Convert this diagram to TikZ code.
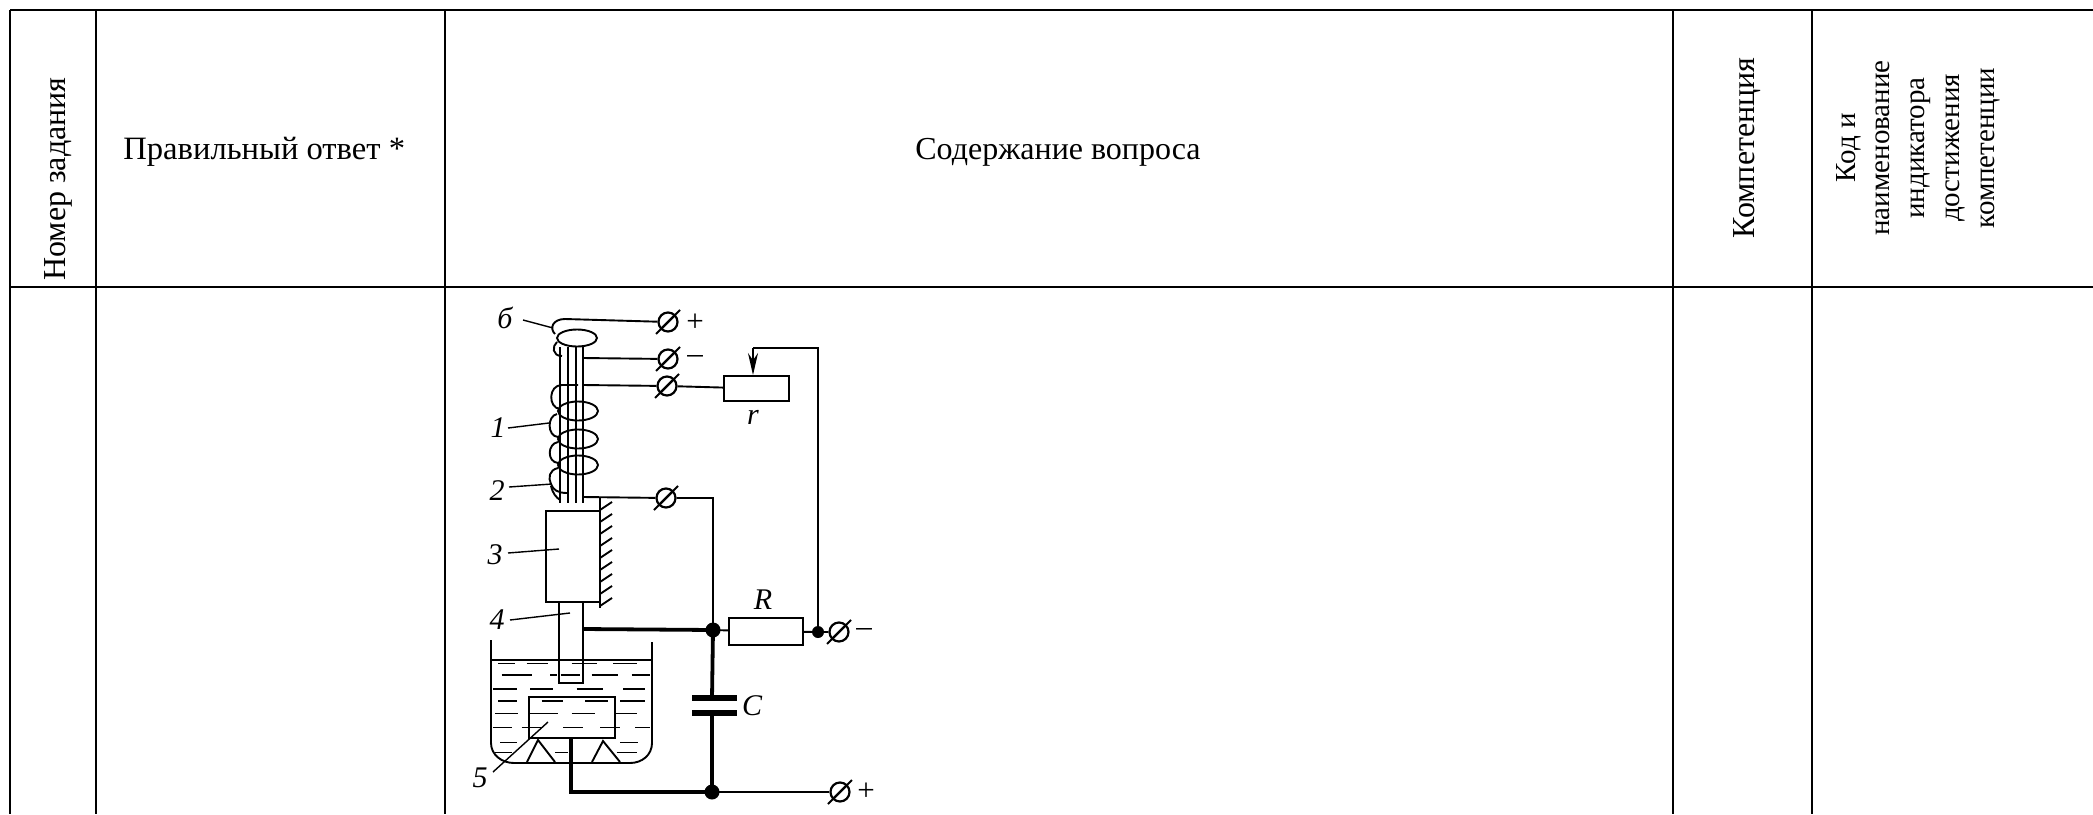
\documentclass[tikz,border=0pt]{standalone}
\usepackage{fontspec}
\setmainfont{Liberation Serif}
\usetikzlibrary{shapes.symbols,arrows.meta}
\tikzset{
	gridline/.style={line width=1.3pt},
	wire/.style={line width=0.95pt},
	heavy/.style={line width=1.9pt},
	fine/.style={line width=0.7pt},
	clamp/.style={forbidden sign,draw,line width=1.1pt,inner sep=0pt,minimum size=9.5pt},
	numlabel/.style={font=\itshape\fontsize{15}{15}\selectfont,inner sep=0pt},
	signlabel/.style={font=\fontsize{15.5}{15.5}\selectfont,inner sep=0pt},
	headtext/.style={font=\fontsize{16}{16}\selectfont,inner sep=0pt}
}
\begin{document}
\begin{tikzpicture}[x=0.5pt,y=-0.5pt]
	\useasboundingbox (0,0) rectangle (2093,814);

	\draw[gridline] (10,10) -- (2093,10);
	\draw[gridline] (10,287) -- (2093,287);
	\foreach \a in {10,96,445,1673,1812}{
		\draw[gridline] (\a,10) -- (\a,814);
	}
	\node[headtext,anchor=base,rotate=90] (number) at (65,179) {Номер задания};
	\node[headtext,anchor=base west,font=\fontsize{16.3}{16.3}\selectfont] (answer) at (123,159) {Правильный ответ *};
	\node[headtext,anchor=base] (question) at (1058,159) {Содержание вопроса};
	\node[headtext,anchor=base,rotate=90] (competence) at (1754,148) {Компетенция};
	\node[align=center,rotate=90,inner sep=0pt,font=\fontsize{14.5}{17.4}\selectfont] (code) at (1918,148) {Код и\\наименование\\индикатора\\достижения\\компетенции};

	\node[clamp] (tplus) at (668,322) {};
	\node[clamp] (tminus) at (668,359) {};
	\node[clamp] (trheo) at (667,386) {};
	\node[clamp] (twall) at (666,498) {};
	\node[clamp] (tneg) at (839,632) {};
	\node[clamp] (tpos) at (840,792) {};
	\foreach \t in {tplus,tminus,trheo,twall,tneg,tpos}{
		\draw[wire] (\t.center) ++(12,-12) -- ++(-24,24);
	}
	\node[signlabel] (plusa) at (695,323) {+};
	\node[signlabel] (minusa) at (695,359) {--};
	\node[signlabel] (minusb) at (864,632) {--};
	\node[signlabel] (plusb) at (866,792) {+};

	\node[draw,wire,minimum width=32.5pt,minimum height=12.5pt,inner sep=0pt] (rheo) at (756.5,388.5) {};
	\node[draw,wire,minimum width=37pt,minimum height=13.5pt,inner sep=0pt] (res) at (766,631.5) {};
	\node[numlabel] (lr) at (753,417) {r};
	\node[numlabel] (lR) at (763,600) {R};
	\node[numlabel] (lC) at (752,706) {C};
	\node[numlabel] (l6) at (505,318) {б};
	\node[numlabel] (l1) at (498,428) {1};
	\node[numlabel] (l2) at (497,491) {2};
	\node[numlabel] (l3) at (495,555) {3};
	\node[numlabel] (l4) at (497,620) {4};
	\node[numlabel] (l5) at (480,778) {5};

	\coordinate (jtop) at (713,630);
	\coordinate (jbot) at (712,792);
	\coordinate (jneg) at (818,632);
	\coordinate (capa) at (712,698);
	\coordinate (capb) at (712,713);
	\coordinate (wiper) at (753,348);

	\foreach \a in {560,568,576,583}{
		\draw[wire] (\a,347) -- (\a,503);
	}
	\draw[wire] (tplus) -- (565,319) .. controls (553,319) and (549,328) .. (555,334);
	\draw[wire] (577,338) ellipse (20 and 8.5);
	\draw[wire] (557,342) .. controls (552,346) and (552,356) .. (562,356);
	\draw[wire] (583,358) -- (tminus);
	\draw[wire] (583,385) -- (trheo) (trheo) -- (rheo);
	\draw[wire] (578,385) -- (562,385) .. controls (548,385) and (548,408) .. (560,409);
	\foreach \y in {411,439,465}{
		\draw[wire] (578,\y) ellipse (20 and 9.5);
	}
	\draw[wire] (557,414) .. controls (547,416) and (547,436) .. (558,437);
	\draw[wire] (558,442) .. controls (547,444) and (547,462) .. (558,463);
	\draw[wire] (558,468) .. controls (549,470) and (548,478) .. (551,484) .. controls (553,490) and (558,493) .. (567,493);
	\draw[wire] (551,486) .. controls (553,494) and (556,497) .. (560,500);

	\draw[wire] (583,497) -- (twall) (twall) -| (jtop);
	\draw[wire] (546,511) rectangle (600,602);
	\draw[wire] (600,498) -- (600,608);
	\foreach \y in {510,522,...,610}{
		\draw[wire] (600,\y) -- (612,\y-8);
	}
	\draw[wire] (559,602) -- (559,683) -- (583,683) -- (583,602);
	\draw[heavy] (583,629) -- (jtop);
	\draw[wire] (jtop) -- (res);
	\draw[wire] (res) -- (jneg) (jneg) -- (tneg);
	\draw[wire] (jneg) |- (wiper);
	\draw[wire,-{Stealth[length=11pt,width=5pt]}] (wiper) -- (wiper |- rheo.north);

	\draw[wire] (491,640) -- (491,743) .. controls (491,755) and (502,763) .. (514,763) -- (630,763) .. controls (642,763) and (652,755) .. (652,743) -- (652,642);
	\draw[wire] (491,660) -- (652,660);
	\draw[wire] (529,738) -- (529,697) -- (615,697) -- (615,738) -- cycle;
	\draw[wire] (527,762) -- (538,740) -- (555,762);
	\draw[wire] (592,762) -- (603,741) -- (620,762);
	\begin{scope}[shift={(440,545)},x=0.1667pt,y=-0.1667pt]
		\foreach \y/\a/\b in {355/175/225,355/260/325,355/395/470,355/520/590,
			390/185/275,390/330/350,390/362/420,390/455/535,390/575/630,
			432/160/230,432/270/340,432/410/490,432/550/615,
			468/175/230,468/305/370,468/435/505,468/540/615,
			505/165/235,505/270/355,505/395/465,505/525/590,
			548/160/215,548/245/310,548/370/430,548/480/540,548/585/630,
			592/180/230,592/540/595,
			622/165/215,622/345/385,622/530/590}{
			\draw[fine] (\a,\y) -- (\b,\y);
		}
	\end{scope}

	\draw[heavy] (571,738) |- (jbot);
	\draw[heavy] (jtop) -- (capa);
	\draw[heavy] (capb) -- (jbot);
	\draw[line width=2.6pt] (692,698) -- (737,698);
	\draw[line width=2.6pt] (692,713) -- (737,713);
	\draw[wire] (jbot) -- (tpos);
	\fill (jtop) circle (7.5);
	\fill (jbot) circle (7.5);
	\fill (jneg) circle (6);

	\draw[fine] (l6) ++(18,2) -- (553,328);
	\draw[fine] (l1) ++(10,0) -- (549,423);
	\draw[fine] (l2) ++(12,-4) -- (552,484);
	\draw[fine] (l3) ++(13,-2) -- (559,549);
	\draw[fine] (l4) ++(13,0) -- (570,613);
	\draw[fine] (l5) ++(13,-6) -- (548,722);
\end{tikzpicture}
\end{document}
